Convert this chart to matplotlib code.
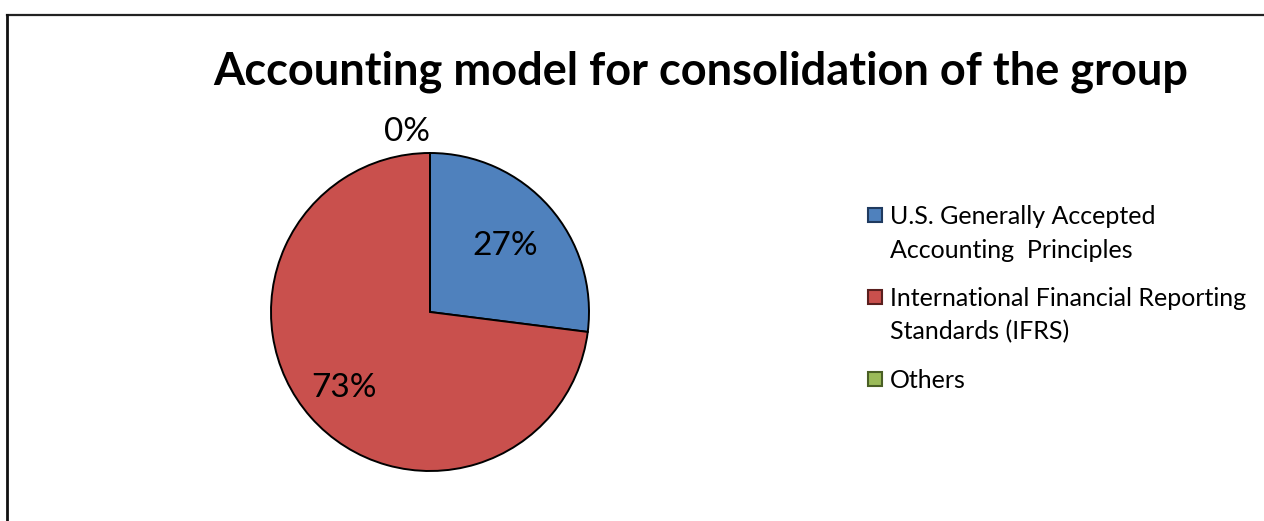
import matplotlib.pyplot as plt
import numpy as np
from matplotlib.lines import Line2D
from matplotlib.patches import Rectangle

# data
labels = ['U.S. Generally Accepted\nAccounting  Principles',
          'International Financial Reporting\nStandards (IFRS)',
          'Others']
shares = [27, 73, 0]
colors = ['#4F81BD', '#C9504D', '#9BBB59']
edge_colors = ['#1F3A5F', '#5A1F1E', '#4A5F25']
title = 'Accounting model for consolidation of the group'

W, H = 1264, 521
plt.rcParams['font.family'] = ['Lato', 'DejaVu Sans']

fig = plt.figure(figsize=(W / 100, H / 100), dpi=100)

# pie axes, centred at (430, 312) px with radius ~159 px
cx, cy, r = 430, 312, 159
lim = 1.2
half = r * lim
ax = fig.add_axes([(cx - half) / W, (H - cy - half) / H, 2 * half / W, 2 * half / H])

wedges, texts = ax.pie(shares, colors=colors, startangle=90, counterclock=False,
                       wedgeprops=dict(edgecolor='black', linewidth=1.4))
ax.set_xlim(-lim, lim)
ax.set_ylim(-lim, lim)
ax.set_aspect('equal')
ax.axis('off')

# percentage labels, each at its own distance from the centre
dists = [0.63, 0.72, 1.13]
for w, s, d in zip(wedges, shares, dists):
    ang = np.deg2rad((w.theta1 + w.theta2) / 2)
    x, y = d * np.cos(ang), d * np.sin(ang)
    ha = 'right' if s == 0 else 'center'
    ax.text(x, y, f'{s}%', ha=ha, va='center', fontsize=24, color='black')

fig.text(701 / W, 1 - 72 / H, title, ha='center', va='center',
         fontsize=32.5, fontweight='bold')

# legend drawn by hand so the swatch sits on the first line of each entry
y = 215          # centre of first legend line, px from top
line_step = 33
entry_gap = 16
for lab, c, ec in zip(labels, colors, edge_colors):
    fig.add_artist(Rectangle((868 / W, 1 - (y + 7) / H), 14 / W, 14 / H,
                             facecolor=c, edgecolor=ec, lw=1.5,
                             transform=fig.transFigure))
    lines = lab.split('\n')
    for i, ln in enumerate(lines):
        fig.text(890 / W, 1 - (y + i * line_step) / H, ln, ha='left', va='center_baseline',
                 fontsize=18)
    y += len(lines) * line_step + entry_gap

# chart frame (only top and left edges are in view)
fig.add_artist(Line2D([7 / W, 1], [1 - 15 / H, 1 - 15 / H], color='#222222', lw=1.6))
fig.add_artist(Line2D([7 / W, 7 / W], [0, 1 - 15 / H], color='#111111', lw=2))

fig.savefig('out.png', dpi=100)
